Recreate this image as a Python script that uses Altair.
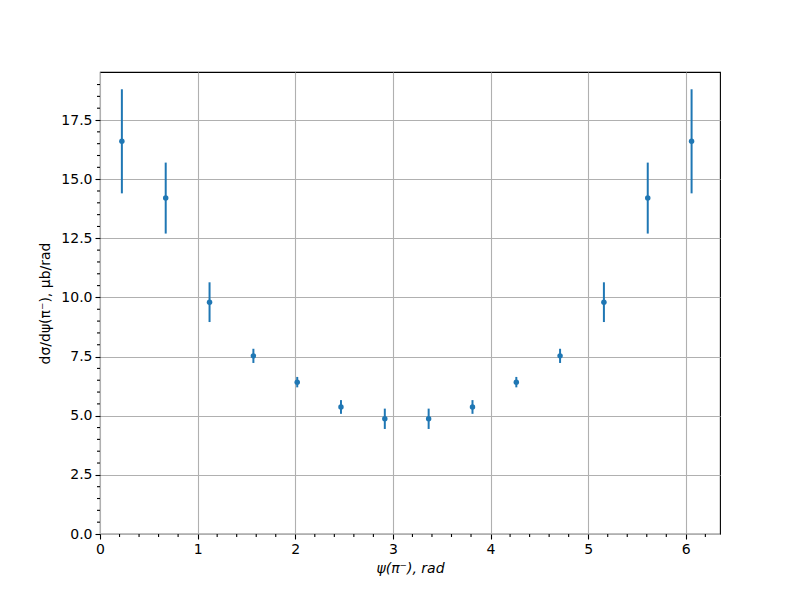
import altair as alt
import pandas as pd

# Data
psi = [0.224, 0.673, 1.122, 1.571, 2.020, 2.468, 2.917, 3.366, 3.815, 4.264, 4.712, 5.161, 5.610, 6.059]
dsigma = [16.6, 14.2, 9.8, 7.53, 6.42, 5.37, 4.87, 4.87, 5.37, 6.42, 7.53, 9.8, 14.2, 16.6]
err = [2.2, 1.5, 0.84, 0.3, 0.22, 0.29, 0.43, 0.43, 0.29, 0.22, 0.3, 0.84, 1.5, 2.2]

x_major = [0, 1, 2, 3, 4, 5, 6]
y_major = [0, 2.5, 5, 7.5, 10, 12.5, 15, 17.5]
x_minor = [round(i * 0.2, 1) for i in range(0, 32) if round(i * 0.2, 1) not in x_major]
y_minor = [i * 0.5 for i in range(0, 39) if (i * 0.5) not in y_major]

df = pd.DataFrame({"x": psi, "y": dsigma, "err": err})
df["lo"] = df["y"] - df["err"]
df["hi"] = df["y"] + df["err"]

W, H = 620, 462
BLUE = "#1f77b4"
FONT = "DejaVu Sans"

xscale = alt.Scale(domain=[0, 6.35], nice=False, zero=False)
yscale = alt.Scale(domain=[0, 19.53], nice=False, zero=False)

xaxis = alt.Axis(values=x_major, format="d", grid=True, gridColor="#b0b0b0", gridWidth=1.1,
                 tickSize=5, tickWidth=1.1, tickColor="black", domain=False, labelFlush=False,
                 labelFont=FONT, labelFontSize=14, labelColor="black", labelPadding=3,
                 title="ψ(π⁻), rad", titleFont=FONT, titleFontSize=14, titleFontWeight="normal",
                 titleFontStyle="italic", titleColor="black", titlePadding=5)
yaxis = alt.Axis(values=y_major, format=".1f", grid=True, gridColor="#b0b0b0", gridWidth=1.1,
                 tickSize=5, tickWidth=1.1, tickColor="black", domain=False, labelFlush=False,
                 labelFont=FONT, labelFontSize=14, labelColor="black", labelPadding=3,
                 title="dσ/dψ(π⁻), μb/rad", titleFont=FONT, titleFontSize=14, titleFontWeight="normal",
                 titleColor="black", titlePadding=8)

base = alt.Chart(df)

bars = base.mark_rule(color=BLUE, strokeWidth=2).encode(
    x=alt.X("x:Q", scale=xscale, axis=xaxis),
    y=alt.Y("lo:Q", scale=yscale, axis=yaxis),
    y2="hi:Q",
)
pts = base.mark_circle(color=BLUE, size=30, opacity=1).encode(
    x=alt.X("x:Q", scale=xscale),
    y=alt.Y("y:Q", scale=yscale),
)

xm = alt.Chart(pd.DataFrame({"v": x_minor})).mark_rule(color="black", strokeWidth=1.1).encode(
    x=alt.X("v:Q", scale=xscale), y=alt.value(H), y2=alt.value(H + 3)
)
ym = alt.Chart(pd.DataFrame({"v": y_minor})).mark_rule(color="black", strokeWidth=1.1).encode(
    y=alt.Y("v:Q", scale=yscale), x=alt.value(0), x2=alt.value(-3)
)

chart = alt.layer(bars, pts, xm, ym).properties(
    width=W, height=H,
    padding={"left": 30, "top": 64, "right": 10, "bottom": 5},
).configure(background="white").configure_view(stroke="black", strokeWidth=1.1)

chart.save("out.html", embed_options={"renderer": "svg", "actions": False})
